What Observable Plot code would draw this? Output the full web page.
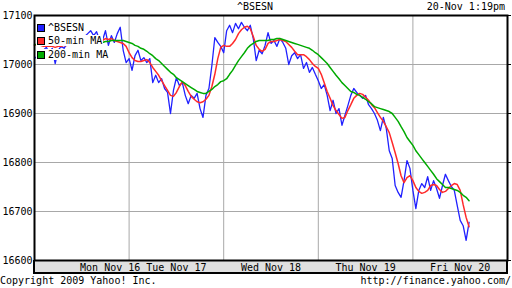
<!DOCTYPE html>
<html><head><meta charset="utf-8">
<script src="https://cdn.jsdelivr.net/npm/d3@7"></script>
<script src="https://cdn.jsdelivr.net/npm/@observablehq/plot@0.6"></script>
<style>
body{margin:0;background:#fff;}
#wrap{position:relative;width:512px;height:288px;overflow:hidden;background:#fff;font-family:"DejaVu Sans Mono",monospace;font-size:10px;color:#000;}
.abs{position:absolute;white-space:pre;line-height:12px;z-index:3;}
#band{position:absolute;left:33px;top:260px;width:475px;height:14px;box-sizing:border-box;background:#e0e0e0;border:2px solid #000;border-top:none;z-index:0;}
#chart{position:absolute;left:0;top:0;z-index:1;}
.leg{position:absolute;left:36px;height:11px;background:#fff;display:flex;align-items:center;line-height:11px;padding-right:1px;white-space:pre;z-index:3;}
.sw{width:6px;height:6px;border:1px solid #000;margin:0 3px 0 1px;}
</style></head>
<body>
<div id="wrap">
  <div id="band"></div>
  <div id="chart"></div>
  <div class="abs" id="title" style="left:0;width:510px;top:1px;text-align:center;"></div>
  <div class="abs" id="stamp" style="right:7px;top:1px;"></div>
  <div class="abs" id="copy" style="left:0;top:275px;"></div>
  <div class="abs" id="url" style="right:1px;top:275px;"></div>
  <div id="legend"></div>
</div>
<script>
const title = "^BSESN";
const stamp = "20-Nov 1:19pm";
const copyright = "Copyright 2009 Yahoo! Inc.";
const url = "http://finance.yahoo.com/";
const seriesNames = ["^BSESN", "50-min MA", "200-min MA"];
const seriesColors = ["#2020ff", "#ff2a2a", "#00aa00"];
const days = ["Mon Nov 16", "Tue Nov 17", "Wed Nov 18", "Thu Nov 19", "Fri Nov 20"];
const dayLabelTimes = [0.8, 1.5, 2.5, 3.5, 4.5];
const dayBoundaries = [1, 2, 3, 4];
const yTicks = [16600, 16700, 16800, 16900, 17000, 17100];
const samplesPerDay = 32;

const bsesn = [
  17012,17018,17014,17029,17035,17024,17033,17002,17029,17037,17033,17043,17039,17049,17045,17053,
  17049,17057,17063,17069,17059,17067,17049,17049,17069,17039,17059,17045,17063,17076,17029,17004,
  17012,16988,17018,17029,17008,17014,17004,17012,16963,16978,16963,16971,16951,16943,16900,16947,
  16973,16957,16963,16937,16920,16937,16931,16941,16910,16892,16937,16951,16998,17055,17045,17037,
  17024,17069,17080,17065,17084,17073,17086,17076,17069,17080,17053,17008,17029,17022,17039,17065,
  17043,17049,17037,17053,17045,17033,17000,17018,17024,17012,17020,16992,17004,16984,16994,16980,
  16967,16951,16959,16937,16906,16927,16900,16910,16876,16896,16916,16937,16951,16943,16937,16931,
  16937,16918,16910,16900,16886,16865,16892,16869,16824,16808,16753,16739,16729,16763,16804,16788,
  16743,16706,16743,16757,16749,16771,16743,16763,16747,16727,16753,16776,16763,16751,16743,16712,
  16682,16671,16641,16678
];
const ma50 = [
  17039,17041,17039,17037,17037,17037,17037,17035,17037,17037,17039,17039,17041,17041,17043,17043,
  17045,17045,17047,17049,17049,17049,17049,17049,17053,17051,17053,17049,17047,17045,17043,17037,
  17024,17014,17008,17006,17006,17008,17010,17004,16994,16986,16978,16967,16957,16947,16937,16935,
  16943,16955,16965,16957,16945,16935,16929,16924,16922,16924,16929,16937,16955,16980,17012,17035,
  17039,17037,17037,17043,17051,17063,17071,17076,17078,17073,17057,17039,17031,17027,17031,17043,
  17047,17047,17049,17051,17049,17047,17041,17035,17027,17020,17020,17020,17016,17010,17002,16996,
  16992,16980,16963,16945,16931,16916,16906,16898,16890,16892,16906,16918,16931,16937,16941,16939,
  16933,16927,16918,16912,16902,16892,16884,16873,16861,16841,16820,16798,16773,16759,16769,16773,
  16763,16749,16741,16737,16739,16743,16753,16755,16753,16745,16739,16741,16747,16753,16757,16755,
  16743,16714,16688,16669
];
const ma200 = [
  17041,17041,17041,17041,17041,17041,17041,17041,17043,17043,17043,17043,17043,17043,17043,17043,
  17043,17045,17045,17045,17045,17045,17045,17045,17047,17047,17049,17049,17049,17049,17049,17047,
  17045,17043,17039,17037,17033,17031,17027,17022,17018,17012,17008,17002,16996,16990,16984,16980,
  16973,16969,16965,16961,16957,16953,16949,16945,16943,16941,16941,16945,16949,16955,16959,16965,
  16967,16971,16980,16988,16998,17008,17016,17024,17033,17039,17043,17047,17049,17049,17049,17049,
  17051,17051,17053,17053,17051,17049,17047,17045,17043,17041,17039,17037,17035,17033,17029,17024,
  17020,17014,17008,17002,16994,16986,16978,16971,16963,16957,16951,16945,16943,16939,16937,16933,
  16929,16924,16920,16914,16912,16910,16908,16906,16904,16900,16892,16884,16873,16863,16851,16843,
  16835,16824,16816,16808,16800,16792,16784,16776,16767,16761,16755,16749,16749,16747,16745,16743,
  16739,16733,16729,16722
];

const toRows = (arr) => arr.map((v, i) => ({t: i / samplesPerDay, v}));

const chart = Plot.plot({
  width: 512, height: 288,
  marginLeft: 34, marginRight: 5, marginTop: 15, marginBottom: 28,
  style: {background: "transparent", fontFamily: "DejaVu Sans Mono, monospace", fontSize: "10px", color: "#000"},
  x: {domain: [0, 5]},
  y: {domain: [16600, 17100]},
  marks: [
    Plot.gridX(dayBoundaries, {stroke: "#a8a8a8", strokeOpacity: 1}),
    Plot.gridY(yTicks.slice(1, -1), {stroke: "#a8a8a8", strokeOpacity: 1}),
    Plot.line(toRows(bsesn), {x: "t", y: "v", stroke: seriesColors[0], strokeWidth: 1.3}),
    Plot.line(toRows(ma50), {x: "t", y: "v", stroke: seriesColors[1], strokeWidth: 1.5}),
    Plot.line(toRows(ma200), {x: "t", y: "v", stroke: seriesColors[2], strokeWidth: 1.5}),
    Plot.frame({stroke: "#000", strokeWidth: 2}),
    Plot.axisY(yTicks, {anchor: "left", tickSize: 0, tickPadding: 2, tickFormat: d => String(d), label: null}),
    Plot.axisY(yTicks, {anchor: "right", tickSize: 3, tickFormat: () => "", label: null}),
    Plot.axisX(dayLabelTimes, {anchor: "bottom", tickSize: 0, tickPadding: 3, tickFormat: d => days[dayLabelTimes.indexOf(d)], label: null})
  ]
});
document.getElementById("chart").appendChild(chart);
document.getElementById("title").textContent = title;
document.getElementById("stamp").textContent = stamp;
document.getElementById("copy").textContent = copyright;
document.getElementById("url").textContent = url;

const legendTops = [22, 35, 49];
const legend = document.getElementById("legend");
seriesNames.forEach((name, i) => {
  const row = document.createElement("div");
  row.className = "leg";
  row.style.top = legendTops[i] + "px";
  const sw = document.createElement("span");
  sw.className = "sw";
  sw.style.background = seriesColors[i];
  const tx = document.createElement("span");
  tx.textContent = name;
  row.appendChild(sw);
  row.appendChild(tx);
  legend.appendChild(row);
});
</script>
</body></html>
